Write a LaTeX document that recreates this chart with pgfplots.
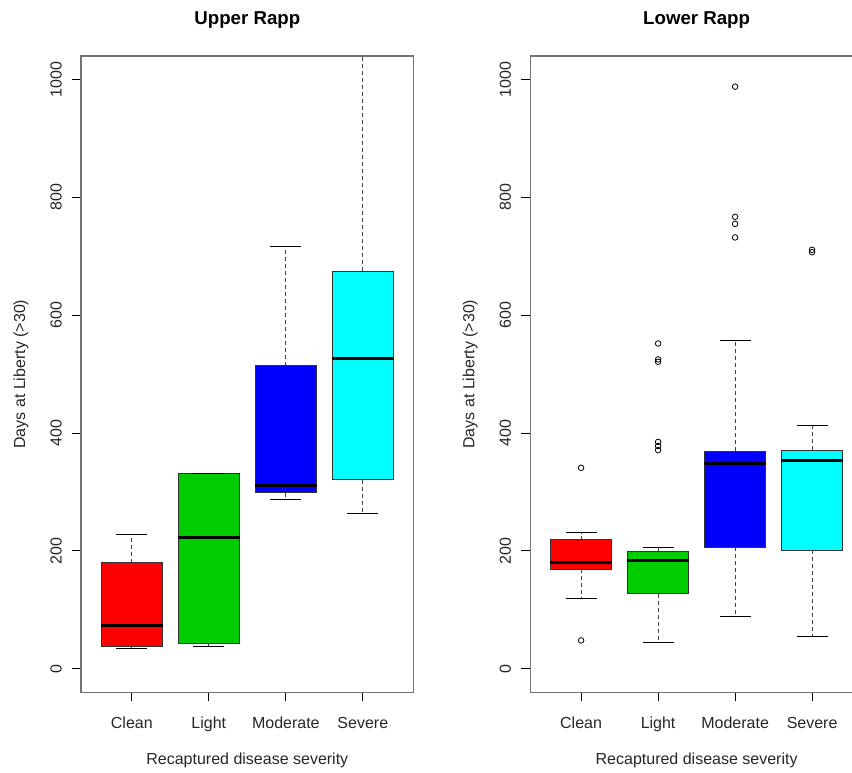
\documentclass[border=0pt]{standalone}
\usepackage{fontspec}
\setmainfont{Liberation Sans}
\usepackage{pgfplots}
\pgfplotsset{compat=1.18}
\definecolor{rred}{RGB}{255,0,0}
\definecolor{rgreen}{RGB}{0,205,0}
\definecolor{rblue}{RGB}{0,0,255}
\definecolor{rcyan}{RGB}{0,255,255}
\pgfplotsset{
  rbox/.style={
    scale only axis, width=249.5pt, height=477.2pt,
    anchor=south west,
    xmin=0.34, xmax=4.66, ymin=-40, ymax=1040,
    xtick={1,2,3,4}, xticklabels={Clean,Light,Moderate,Severe},
    ytick={0,200,400,600,800,1000},
    xtick pos=bottom, ytick pos=left,
    tick align=outside, major tick length=6.75pt,
    tick style={black, line width=0.75pt},
    axis line style={black!55, line width=1.1pt},
    /pgf/number format/assume math mode=true,
    scaled y ticks=false,
    yticklabel style={/pgf/number format/1000 sep={}, rotate=90, anchor=south, inner sep=0pt},
    yticklabel shift=7.5pt,
    xticklabel style={anchor=base, inner sep=0pt},
    xticklabel shift=20.25pt,
    tick label style={font=\fontsize{12}{14}\selectfont, text=black!85},
    every axis title/.style={at={(axis description cs:0.5,1)}, anchor=base, yshift=23.25pt, font=\bfseries\fontsize{14}{17}\selectfont},
    every axis x label/.style={at={(axis description cs:0.5,0)}, anchor=base, yshift=-54.5pt, font=\fontsize{12}{14}\selectfont, text=black!85},
    every axis y label/.style={at={(axis description cs:0,0.5)}, xshift=-42pt, rotate=90, anchor=base, font=\fontsize{12}{14}\selectfont, text=black!85},
    xlabel={Recaptured disease severity},
    ylabel={Days at Liberty (>30)},
    clip=true,
    unbounded coords=jump,
  },
  whisk/.style={black!75, dash pattern=on 3pt off 2.25pt, line width=0.75pt, mark=none},
  capl/.style={black, solid, line width=0.75pt, mark=none},
  boxs/.style={draw=black!80, line width=0.75pt, mark=none},
  medl/.style={black, line width=2.25pt, mark=none},
  outl/.style={only marks, mark=o, mark size=2.1pt, mark options={solid, draw=black, fill=none, line width=0.6pt}},
}
\begin{document}
\begin{tikzpicture}
\begin{axis}[rbox, at={(60.75pt,59.8pt)}, title={Upper Rapp}]
% whiskers
\addplot[whisk] coordinates {(1,180) (1,228) (1,nan) (1,37) (1,35) (1,nan)
  (2,43) (2,37) (2,nan)
  (3,514) (3,717) (3,nan) (3,299) (3,288) (3,nan)
  (4,675) (4,1150) (4,nan) (4,321) (4,263)};
% boxes
\addplot[boxs, fill=rred]   coordinates {(0.6,37) (1.4,37) (1.4,180) (0.6,180) (0.6,37)};
\addplot[boxs, fill=rgreen] coordinates {(1.6,43) (2.4,43) (2.4,332) (1.6,332) (1.6,43)};
\addplot[boxs, fill=rblue]  coordinates {(2.6,299) (3.4,299) (3.4,514) (2.6,514) (2.6,299)};
\addplot[boxs, fill=rcyan]  coordinates {(3.6,321) (4.4,321) (4.4,675) (3.6,675) (3.6,321)};
% medians
\addplot[medl] coordinates {(0.6,73) (1.4,73) (1.4,nan) (1.6,223) (2.4,223) (2.4,nan)
  (2.6,311) (3.4,311) (3.4,nan) (3.6,526) (4.4,526)};
% caps
\addplot[capl] coordinates {(0.8,228) (1.2,228) (1.2,nan) (0.8,35) (1.2,35) (1.2,nan)
  (1.8,332) (2.2,332) (2.2,nan) (1.8,37) (2.2,37) (2.2,nan)
  (2.8,717) (3.2,717) (3.2,nan) (2.8,288) (3.2,288) (3.2,nan)
  (3.8,263) (4.2,263)};
\end{axis}
\begin{axis}[rbox, at={(397.7pt,59.8pt)}, title={Lower Rapp}]
\addplot[whisk] coordinates {(1,219) (1,231) (1,nan) (1,169) (1,119) (1,nan)
  (2,199) (2,206) (2,nan) (2,127) (2,45) (2,nan)
  (3,369) (3,557) (3,nan) (3,206) (3,88) (3,nan)
  (4,371) (4,413) (4,nan) (4,201) (4,55)};
\addplot[boxs, fill=rred]   coordinates {(0.6,169) (1.4,169) (1.4,219) (0.6,219) (0.6,169)};
\addplot[boxs, fill=rgreen] coordinates {(1.6,127) (2.4,127) (2.4,199) (1.6,199) (1.6,127)};
\addplot[boxs, fill=rblue]  coordinates {(2.6,206) (3.4,206) (3.4,369) (2.6,369) (2.6,206)};
\addplot[boxs, fill=rcyan]  coordinates {(3.6,201) (4.4,201) (4.4,371) (3.6,371) (3.6,201)};
\addplot[medl] coordinates {(0.6,180) (1.4,180) (1.4,nan) (1.6,184) (2.4,184) (2.4,nan)
  (2.6,348) (3.4,348) (3.4,nan) (3.6,354) (4.4,354)};
\addplot[capl] coordinates {(0.8,231) (1.2,231) (1.2,nan) (0.8,119) (1.2,119) (1.2,nan)
  (1.8,206) (2.2,206) (2.2,nan) (1.8,45) (2.2,45) (2.2,nan)
  (2.8,557) (3.2,557) (3.2,nan) (2.8,88) (3.2,88) (3.2,nan)
  (3.8,413) (4.2,413) (4.2,nan) (3.8,55) (4.2,55)};
\addplot[outl] coordinates {(1,341) (1,48)
  (2,552) (2,525) (2,521) (2,385) (2,378) (2,371)
  (3,988) (3,767) (3,755) (3,732)
  (4,711) (4,707)};
\end{axis}
\pgfresetboundingbox
\path[use as bounding box] (0pt,0pt) rectangle (639pt,579pt);
\end{tikzpicture}
\end{document}
